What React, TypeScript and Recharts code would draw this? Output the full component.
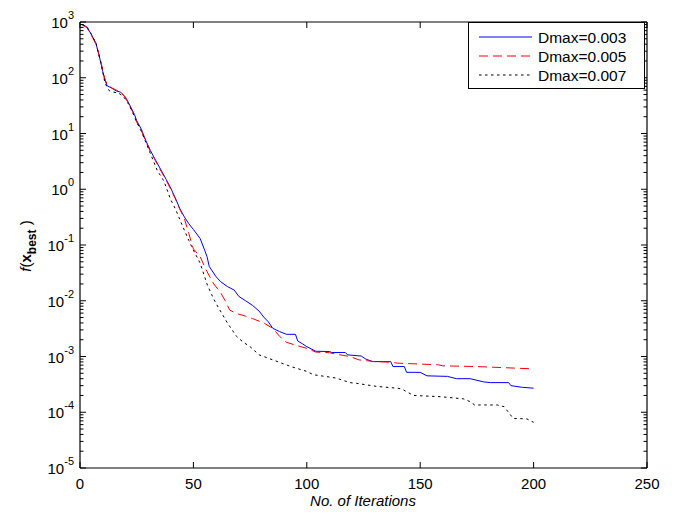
import React from 'react';
import { LineChart, Line, XAxis, YAxis } from 'recharts';

// iteration / f(x_best) pairs
const ITER_003 = [1, 3, 5, 7, 8, 9, 10, 11, 12, 14, 16, 18, 20, 22, 24, 25, 27, 29, 31, 33, 35, 38, 40, 42, 44, 46, 48, 50, 53, 55, 56, 57, 60, 62, 65, 68, 70, 73, 76, 79, 81, 83, 85, 88, 91, 95, 96, 98, 100, 104, 110, 111, 117, 118, 124, 126, 129, 137, 138, 143, 144, 150, 153, 162, 166, 172, 178, 181, 189, 190, 195, 200];
const VAL_003 = [900, 820, 600, 420, 290, 200, 130, 90, 72, 65, 58, 55, 45, 32, 22, 17, 12, 7.5, 5.0, 3.5, 2.5, 1.5, 1.05, 0.7, 0.45, 0.32, 0.24, 0.19, 0.13, 0.08, 0.062, 0.041, 0.027, 0.022, 0.018, 0.0155, 0.012, 0.01, 0.0083, 0.0065, 0.0051, 0.0042, 0.0032, 0.0028, 0.0025, 0.0025, 0.0019, 0.0017, 0.0015, 0.00124, 0.00123, 0.00118, 0.00118, 0.00107, 0.00102, 0.0009, 0.00081, 0.00081, 0.00066, 0.00066, 0.00052, 0.00052, 0.00045, 0.00044, 0.0004, 0.0004, 0.00035, 0.00034, 0.00034, 0.0003, 0.00028, 0.00027];

const ITER_005 = [1, 3, 5, 7, 8, 9, 10, 11, 12, 14, 16, 18, 20, 22, 24, 25, 27, 29, 31, 33, 35, 38, 40, 42, 44, 46, 48, 50, 53, 55, 57, 59, 62, 64, 66, 69, 73, 76, 81, 85, 88, 91, 95, 100, 104, 110, 113, 119, 123, 130, 137, 140, 158, 160, 175, 187, 200];
const VAL_005 = [880, 800, 580, 400, 300, 210, 140, 95, 75, 66, 60, 55, 44, 31, 21, 16, 11.5, 7.2, 4.8, 3.4, 2.4, 1.45, 1.0, 0.68, 0.44, 0.3, 0.16, 0.085, 0.062, 0.04, 0.028, 0.02, 0.014, 0.01, 0.0068, 0.0059, 0.0053, 0.0048, 0.004, 0.0032, 0.0023, 0.0018, 0.0016, 0.0014, 0.0012, 0.00117, 0.0011, 0.001, 0.00087, 0.00081, 0.00079, 0.00076, 0.00071, 0.00068, 0.00066, 0.00063, 0.0006];

const ITER_007 = [1, 3, 5, 7, 8, 9, 10, 11, 13, 15, 17, 19, 21, 23, 25, 27, 29, 31, 34, 37, 40, 42, 45, 48, 50, 53, 56, 58, 60, 63, 65, 69, 72, 75, 79, 85, 93, 100, 103, 108, 113, 119, 122, 131, 140, 142, 147, 159, 169, 172, 174, 184, 187, 191, 197, 200];
const VAL_007 = [900, 820, 600, 420, 290, 200, 130, 80, 58, 55, 53, 47, 36, 25, 16, 11, 7, 4.4, 2.2, 1.4, 0.65, 0.45, 0.23, 0.12, 0.081, 0.047, 0.02, 0.013, 0.0089, 0.0055, 0.004, 0.0023, 0.0018, 0.0015, 0.00107, 0.00087, 0.00066, 0.00054, 0.00047, 0.00044, 0.00041, 0.00034, 0.00033, 0.00029, 0.00027, 0.00026, 0.0002, 0.00019, 0.000174, 0.000155, 0.000135, 0.000135, 0.000126, 0.0000776, 0.000076, 0.000066];

const X_TICKS = [0, 50, 100, 150, 200, 250];
const DECADES = [-5, -4, -3, -2, -1, 0, 1, 2, 3];

const SERIES = [
  { name: 'Dmax=0.003', iters: ITER_003, vals: VAL_003, color: '#0000ff', dash: undefined },
  { name: 'Dmax=0.005', iters: ITER_005, vals: VAL_005, color: '#ff0000', dash: '9 5' },
  { name: 'Dmax=0.007', iters: ITER_007, vals: VAL_007, color: '#000000', dash: '2.5 3.5' },
];

const Y_TICKS: number[] = [];
DECADES.forEach((d) => {
  Y_TICKS.push(Math.pow(10, d));
  if (d < 3) for (let m = 2; m <= 9; m++) Y_TICKS.push(m * Math.pow(10, d));
});

const FONT = 'Arial, "Liberation Sans", Helvetica, sans-serif';

function YTick(props: any) {
  const { x, y, payload, side } = props;
  const lg = Math.log10(payload.value);
  const e = Math.round(lg);
  const major = Math.abs(lg - e) < 1e-6;
  const dir = side === 'left' ? 1 : -1;
  const len = major ? 6 : 3.5;
  return (
    <g>
      <line x1={x} x2={x + dir * len} y1={y} y2={y} stroke="#000" strokeWidth={1} />
      {side === 'left' && major && (
        <text x={x - 6} y={y + 6} textAnchor="end" fontSize={15} fontFamily={FONT} fill="#000">
          10<tspan dy={-9} fontSize={11}>{e}</tspan>
        </text>
      )}
    </g>
  );
}

function XTick(props: any) {
  const { x, y, payload, side } = props;
  const dir = side === 'bottom' ? -1 : 1;
  return (
    <g>
      <line x1={x} x2={x} y1={y} y2={y + dir * 6} stroke="#000" strokeWidth={1} />
      {side === 'bottom' && (
        <text x={x} y={y + 21} textAnchor="middle" fontSize={15} fontFamily={FONT} fill="#000">
          {payload.value}
        </text>
      )}
    </g>
  );
}

export default function App() {
  return (
    <div style={{ position: 'absolute', left: 0, top: 0, width: 678, height: 515, background: '#fff' }}>
      <LineChart width={678} height={515} margin={{ top: 21, right: 30, bottom: 46, left: 79 }}>
        <XAxis
          xAxisId="b"
          type="number"
          dataKey="it"
          domain={[0, 250]}
          ticks={X_TICKS}
          interval={0}
          height={1}
          tickSize={0}
          tickMargin={0}
          axisLine={{ stroke: '#000', strokeWidth: 1.2 }}
          tickLine={false}
          tick={<XTick side="bottom" />}
          allowDataOverflow
        />
        <XAxis
          xAxisId="t"
          orientation="top"
          type="number"
          dataKey="it"
          domain={[0, 250]}
          ticks={X_TICKS}
          interval={0}
          height={1}
          tickSize={0}
          tickMargin={0}
          axisLine={{ stroke: '#000', strokeWidth: 1.2 }}
          tickLine={false}
          tick={<XTick side="top" />}
          allowDataOverflow
        />
        <YAxis
          yAxisId="l"
          type="number"
          scale="log"
          domain={[1e-5, 1e3]}
          ticks={Y_TICKS}
          interval={0}
          width={1}
          tickSize={0}
          tickMargin={0}
          axisLine={{ stroke: '#000', strokeWidth: 1.2 }}
          tickLine={false}
          tick={<YTick side="left" />}
          allowDataOverflow
        />
        <YAxis
          yAxisId="r"
          orientation="right"
          type="number"
          scale="log"
          domain={[1e-5, 1e3]}
          ticks={Y_TICKS}
          interval={0}
          width={1}
          tickSize={0}
          tickMargin={0}
          axisLine={{ stroke: '#000', strokeWidth: 1.2 }}
          tickLine={false}
          tick={<YTick side="right" />}
          allowDataOverflow
        />
        {SERIES.map((s) => (
          <Line
            key={s.name}
            xAxisId="b"
            yAxisId="l"
            data={s.iters.map((it, i) => ({ it, v: s.vals[i] }))}
            dataKey="v"
            type="linear"
            stroke={s.color}
            strokeWidth={1}
            strokeDasharray={s.dash}
            dot={false}
            activeDot={false}
            isAnimationActive={false}
          />
        ))}
      </LineChart>
      <svg
        width={678}
        height={515}
        style={{ position: 'absolute', left: 0, top: 0, pointerEvents: 'none' }}
      >
        <g transform="translate(468,22)">
          <rect x={0.5} y={0.5} width={176} height={66} fill="#fff" stroke="#000" strokeWidth={1} />
          {SERIES.map((s, i) => {
            const cy = 15 + i * 19;
            return (
              <g key={s.name}>
                <line x1={11} x2={64} y1={cy} y2={cy} stroke={s.color} strokeWidth={1} strokeDasharray={s.dash} />
                <text x={70} y={cy + 5.5} fontSize={15.5} fontFamily={FONT} fill="#000">{s.name}</text>
              </g>
            );
          })}
        </g>
        <text x={363} y={506} textAnchor="middle" fontSize={15} fontStyle="italic" fontFamily={FONT} fill="#000">
          No. of Iterations
        </text>
        <text transform="translate(31,246) rotate(-90)" textAnchor="middle" fontSize={15} fontFamily={FONT} fill="#000">
          <tspan fontStyle="italic">f</tspan>
          <tspan>(</tspan>
          <tspan fontWeight="bold">x</tspan>
          <tspan fontWeight="bold" fontSize={12} dy={5}>best</tspan>
          <tspan dy={-5}> )</tspan>
        </text>
      </svg>
    </div>
  );
}
